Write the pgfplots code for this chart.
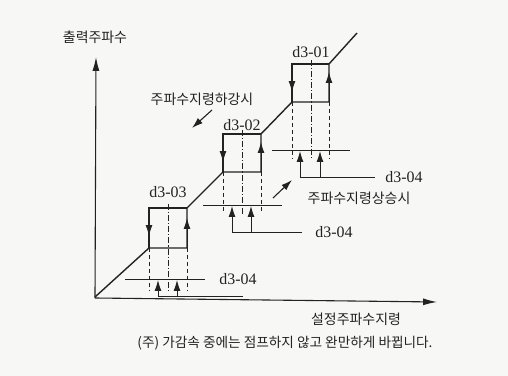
\documentclass[border=0pt]{standalone}
\usepackage{fontspec}
\setmainfont{Noto Sans CJK KR}
\newfontfamily\dfont{Liberation Serif}
\usepackage{pgfplots}
\pgfplotsset{compat=1.18}
\usetikzlibrary{arrows.meta}
\definecolor{bg}{HTML}{F7F7F5}
\definecolor{ink}{HTML}{222222}
\tikzset{
  ah/.style={-{Latex[length=11pt,width=7pt]}},
  axah/.style={-{Latex[length=14pt,width=7pt]}},
  outer/.style={ink, line width=0.8pt, dash pattern=on 4pt off 3pt},
  middle/.style={ink, line width=0.8pt, dash pattern=on 6pt off 2pt on 1.2pt off 2pt},
  dlab/.style={ink, font=\dfont\fontsize{16}{18}\selectfont},
  klab/.style={ink, font=\fontsize{14}{16}\selectfont},
}
\begin{document}
\begin{tikzpicture}
\begin{axis}[
  width=508bp, height=376bp, scale only axis,
  xmin=0, xmax=508, ymin=0, ymax=376,
  hide axis, clip=false,
]
% background
\addplot[fill=bg, draw=none] coordinates {(0,0) (508,0) (508,376) (0,376) (0,0)};

% axes
\addplot[ink, line width=1.1pt, axah] coordinates {(95,78) (437,74)};
\addplot[ink, line width=1.1pt, axah] coordinates {(95,78) (96,319)};

% output frequency with jumps
\addplot[ink, line width=1.4pt] coordinates {
  (95,79) (149,128) (187,128) (187,168) (223,204) (261,204) (261,242)
  (292,274) (329,274) (329,312) (357,343)};
% box tops and left sides
\addplot[ink, line width=1.2pt] coordinates {(187,168) (149,168) (149,128)};
\addplot[ink, line width=1.2pt] coordinates {(261,242) (223,242) (223,204)};
\addplot[ink, line width=1.2pt] coordinates {(329,312) (292,312) (292,274)};
% arrows on box sides
\addplot[ink, line width=1pt, ah] coordinates {(149,168) (149,140)};
\addplot[ink, line width=1pt, ah] coordinates {(187,128) (187,158)};
\addplot[ink, line width=1pt, ah] coordinates {(223,242) (223,214)};
\addplot[ink, line width=1pt, ah] coordinates {(261,204) (261,234)};
\addplot[ink, line width=1pt, ah] coordinates {(292,312) (292,284)};
\addplot[ink, line width=1pt, ah] coordinates {(329,274) (329,304)};

% dashed guides, box d3-03
\addplot[outer] coordinates {(149,128) (149,86)};
\addplot[outer] coordinates {(187,128) (187,86)};
\addplot[middle] coordinates {(168,172) (168,84)};
% dashed guides, box d3-02
\addplot[outer] coordinates {(223,204) (223,164)};
\addplot[outer] coordinates {(261,204) (261,164)};
\addplot[middle] coordinates {(242,246) (242,162)};
% dashed guides, box d3-01
\addplot[outer] coordinates {(292,274) (292,218)};
\addplot[outer] coordinates {(329,274) (329,218)};
\addplot[middle] coordinates {(311,316) (311,216)};

% d3-04 width markers
\addplot[ink, line width=0.8pt] coordinates {(125,97) (205,97)};
\addplot[ink, line width=0.9pt] coordinates {(158,80) (243,80)};
\addplot[ink, line width=0.9pt, ah] coordinates {(158,80) (158,96)};
\addplot[ink, line width=0.9pt, ah] coordinates {(177,80) (177,96)};

\addplot[ink, line width=0.8pt] coordinates {(203,171) (282,171)};
\addplot[ink, line width=0.9pt] coordinates {(232,144) (302,144)};
\addplot[ink, line width=0.9pt, ah] coordinates {(232,144) (232,170)};
\addplot[ink, line width=0.9pt, ah] coordinates {(251,144) (251,170)};

\addplot[ink, line width=0.8pt] coordinates {(272,226) (350,226)};
\addplot[ink, line width=0.9pt] coordinates {(300,199) (375,199)};
\addplot[ink, line width=0.9pt, ah] coordinates {(300,199) (300,225)};
\addplot[ink, line width=0.9pt, ah] coordinates {(320,199) (320,225)};

% direction arrows
\addplot[ink, line width=1.1pt, ah] coordinates {(212,266) (192,248)};
\addplot[ink, line width=1.1pt, ah] coordinates {(273,178) (292,196)};

% labels
\node[dlab] at (axis cs:311,324) {d3-01};
\node[dlab] at (axis cs:242,251) {d3-02};
\node[dlab] at (axis cs:168,184) {d3-03};
\node[dlab] at (axis cs:238,97) {d3-04};
\node[dlab] at (axis cs:334,144) {d3-04};
\node[dlab] at (axis cs:404,199) {d3-04};

\node[klab] at (axis cs:95,339) {출력주파수};
\node[klab] at (axis cs:202,277) {주파수지령하강시};
\node[klab] at (axis cs:359,178) {주파수지령상승시};
\node[klab] at (axis cs:356,57) {설정주파수지령};
\node[ink, font=\fontsize{13.7}{16}\selectfont] at (axis cs:285,33) {(주) 가감속 중에는 점프하지 않고 완만하게 바뀝니다.};
\end{axis}
\end{tikzpicture}
\end{document}
